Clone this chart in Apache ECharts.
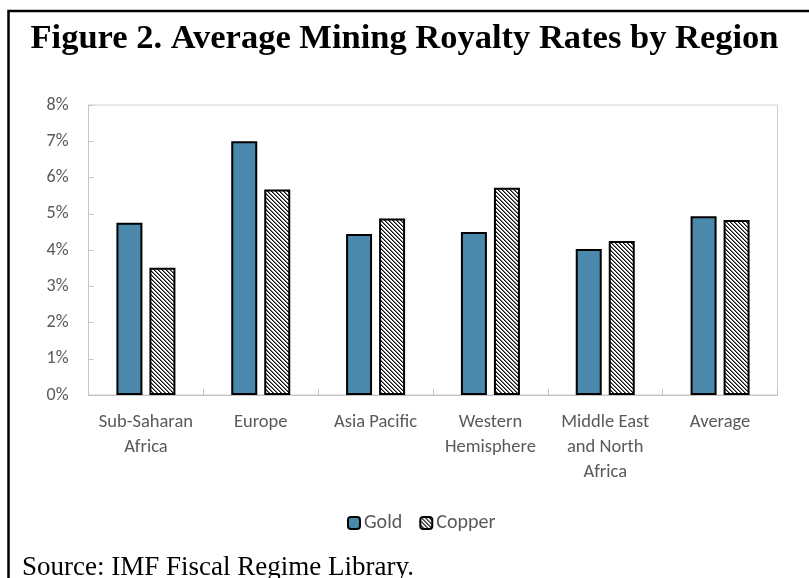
<!DOCTYPE html>
<html>
<head>
<meta charset="utf-8">
<script src="https://cdn.jsdelivr.net/npm/echarts@6/dist/echarts.min.js"></script>
<style>
  html, body { margin: 0; padding: 0; background: #fff; }
  #chart { width: 809px; height: 578px; }
</style>
</head>
<body>
<div id="chart"></div>
<script>
// data (percent)
var regions = ['Sub-Saharan\nAfrica', 'Europe', 'Asia Pacific', 'Western\nHemisphere', 'Middle East\nand North\nAfrica', 'Average'];
var gold = [4.75, 7.0, 4.44, 4.5, 4.03, 4.93];
var copper = [3.51, 5.67, 4.87, 5.72, 4.25, 4.83];
var yTicks = [0, 1, 2, 3, 4, 5, 6, 7, 8];

var labelFont = 'Carlito, Lato, sans-serif';
var grey = '#595959';

// hatch fill for copper bars (downward diagonal)
function hatch() {
  var c = document.createElement('canvas');
  c.width = 4; c.height = 4;
  var ctx = c.getContext('2d');
  ctx.fillStyle = '#fff';
  ctx.fillRect(0, 0, 4, 4);
  for (var y = 0; y < 4; y++) {
    ctx.fillStyle = '#111';
    ctx.fillRect(y, y, 1, 1);
    ctx.fillStyle = '#777';
    ctx.fillRect((y + 1) % 4, y, 1, 1);
  }
  return c;
}

var myChart = echarts.init(document.getElementById('chart'));

var option = {
  backgroundColor: '#fff',
  animation: false,
  title: [{
    text: 'Figure 2. Average Mining Royalty Rates by Region',
    left: 'center',
    top: 17,
    textStyle: { fontFamily: '"Liberation Serif", "Times New Roman", serif', fontWeight: 'bold', fontSize: 34.5, color: '#000' }
  }, {
    text: 'Source: IMF Fiscal Regime Library.',
    left: 17,
    top: 549,
    textStyle: { fontFamily: '"Liberation Serif", "Times New Roman", serif', fontWeight: 'normal', fontSize: 27, color: '#000' }
  }],
  graphic: [{
    type: 'polyline',
    silent: true,
    shape: { points: [[8.5, 578], [8.5, 11], [809, 11]] },
    style: { stroke: '#000', lineWidth: 2.5, fill: null }
  }],
  legend: {
    left: 342,
    top: 508,
    itemWidth: 12,
    itemHeight: 12,
    itemGap: 17,
    textStyle: { fontFamily: labelFont, fontSize: 20, color: grey, padding: [0, 0, 0, -1] },
    data: ['Gold', 'Copper']
  },
  grid: {
    left: 88.5,
    right: 31.5,
    top: 105,
    bottom: 183,
    show: true,
    borderColor: '#d0d0d0',
    borderWidth: 1
  },
  xAxis: {
    type: 'category',
    data: regions,
    axisLine: { lineStyle: { color: '#c4c4c4', width: 1 } },
    axisTick: { show: true, inside: true, length: 6, lineStyle: { color: '#c4c4c4' } },
    axisLabel: { fontFamily: labelFont, fontSize: 18.5, color: grey, lineHeight: 25, margin: 15, interval: 0 },
    splitLine: { show: false }
  },
  yAxis: {
    type: 'value',
    min: yTicks[0],
    max: yTicks[yTicks.length - 1],
    interval: 1,
    axisLine: { show: true, lineStyle: { color: '#c4c4c4', width: 1 } },
    axisTick: { show: true, inside: true, length: 5, lineStyle: { color: '#c4c4c4' } },
    axisLabel: { fontFamily: labelFont, fontSize: 18, color: grey, margin: 20, formatter: '{value}%' },
    splitLine: { show: false }
  },
  series: [{
    name: 'Gold',
    type: 'bar',
    data: gold,
    barWidth: 26,
    barGap: '27%',
    itemStyle: { color: '#4A88AC', borderColor: '#000', borderWidth: 2 }
  }, {
    name: 'Copper',
    type: 'bar',
    data: copper,
    barWidth: 26,
    itemStyle: { color: { image: hatch(), repeat: 'repeat' }, borderColor: '#000', borderWidth: 2 }
  }]
};

myChart.setOption(option);
</script>
</body>
</html>
